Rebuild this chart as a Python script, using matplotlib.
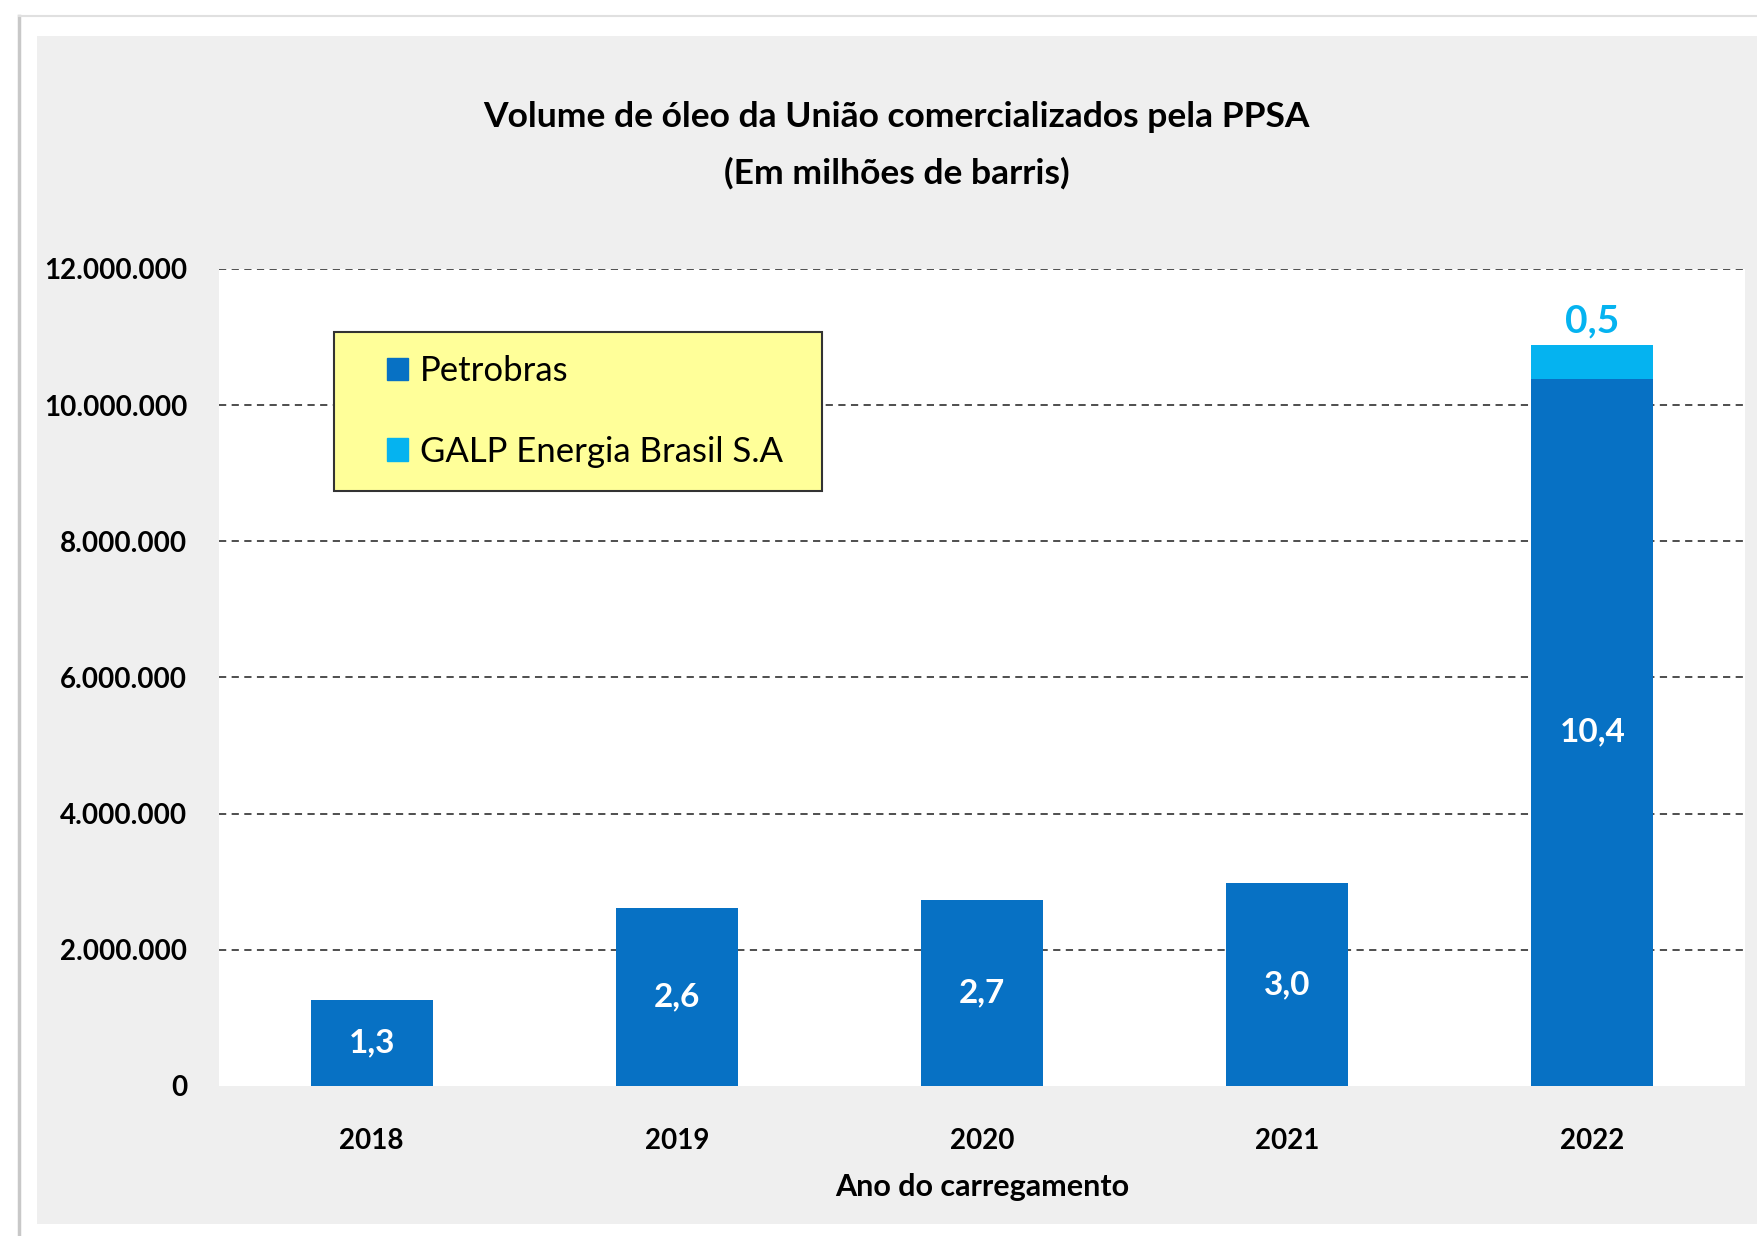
import matplotlib.pyplot as plt
from matplotlib.patches import Rectangle, Patch
from matplotlib.lines import Line2D

# dados (barris)
anos = ["2018", "2019", "2020", "2021", "2022"]
petrobras = [1260000, 2620000, 2730000, 2980000, 10390000]
galp = [0, 0, 0, 0, 490000]
yticks = [0, 2000000, 4000000, 6000000, 8000000, 10000000, 12000000]

cor_petro = "#0771C4"
cor_galp = "#05B3F0"

plt.rcParams['font.family'] = ['Lato', 'DejaVu Sans']

fig = plt.figure(figsize=(17.58, 12.36), dpi=100)
fig.patch.set_facecolor("white")

# painel cinza de fundo e bordas
fig.patches.append(Rectangle((0.021, 0.0097), 0.979, 0.9613, transform=fig.transFigure,
                             facecolor="#EFEFEF", edgecolor="none", zorder=-5))
fig.add_artist(Line2D([0.0108, 0.0108], [0.0, 0.987], transform=fig.transFigure,
                      color="#C8C8C8", lw=2.5, zorder=-4))
fig.add_artist(Line2D([0.0108, 1.0], [0.987, 0.987], transform=fig.transFigure,
                      color="#E0E0E0", lw=1.5, zorder=-4))

ax = fig.add_axes([0.1246, 0.1214, 0.868, 0.661])
ax.set_zorder(1)
ax.set_facecolor("white")

x = range(len(anos))
b1 = ax.bar(x, petrobras, width=0.4, color=cor_petro, zorder=3, label="Petrobras")
b2 = ax.bar(x, galp, width=0.4, bottom=petrobras, color=cor_galp, zorder=3,
            label="GALP Energia Brasil S.A")

def fmt(v):
    return f"{v / 1e6:.1f}".replace(".", ",")

ax.bar_label(b1, labels=[fmt(v) for v in petrobras], label_type="center",
             color="white", fontsize=24, fontweight="bold")
ax.bar_label(b2, labels=[fmt(v) if v > 0 else "" for v in galp], label_type="edge",
             padding=5, color=cor_galp, fontsize=28, fontweight="bold")

ax.set_xlim(-0.5, len(anos) - 0.5)
ax.set_ylim(0, 12000000)
ax.set_yticks(yticks)
ax.set_yticklabels([f"{v:,}".replace(",", ".") for v in yticks])
ax.set_xticks(list(x))
ax.set_xticklabels(anos)
ax.tick_params(axis="both", length=0, labelsize=20)
ax.tick_params(axis="y", pad=23)
ax.tick_params(axis="x", pad=30)
for lab in ax.get_xticklabels() + ax.get_yticklabels():
    lab.set_fontweight("bold")

ax.yaxis.grid(True, linestyle=(0, (4, 3)), color="#404040", lw=1.3)
ax.get_ygridlines()[0].set_visible(False)
ax.set_axisbelow(True)
for s in ax.spines.values():
    s.set_visible(False)

ax.set_xlabel("Ano do carregamento", fontsize=22, fontweight="bold", labelpad=14)

# caixa amarela da legenda
ax.add_patch(Rectangle((0.0754, 0.728), 0.320, 0.195, transform=ax.transAxes,
                       facecolor="#FFFF99", edgecolor="#333333", lw=1.5, zorder=4))
handles = [Patch(color=cor_petro), Patch(color=cor_galp)]
leg = ax.legend(handles, ["Petrobras", "GALP Energia Brasil S.A"], loc="center left",
                bbox_to_anchor=(0.110, 0.8256), frameon=False, fontsize=25,
                handlelength=0.62, handleheight=0.62, handletextpad=0.33,
                labelspacing=1.4, borderpad=0, borderaxespad=0)
leg.set_zorder(5)

fig.text(0.510, 0.905, "Volume de óleo da União comercializados pela PPSA",
         ha="center", va="center", fontsize=25.5, fontweight="bold")
fig.text(0.510, 0.860, "(Em milhões de barris)",
         ha="center", va="center", fontsize=25.5, fontweight="bold")

fig.savefig("out.png", dpi=100)
